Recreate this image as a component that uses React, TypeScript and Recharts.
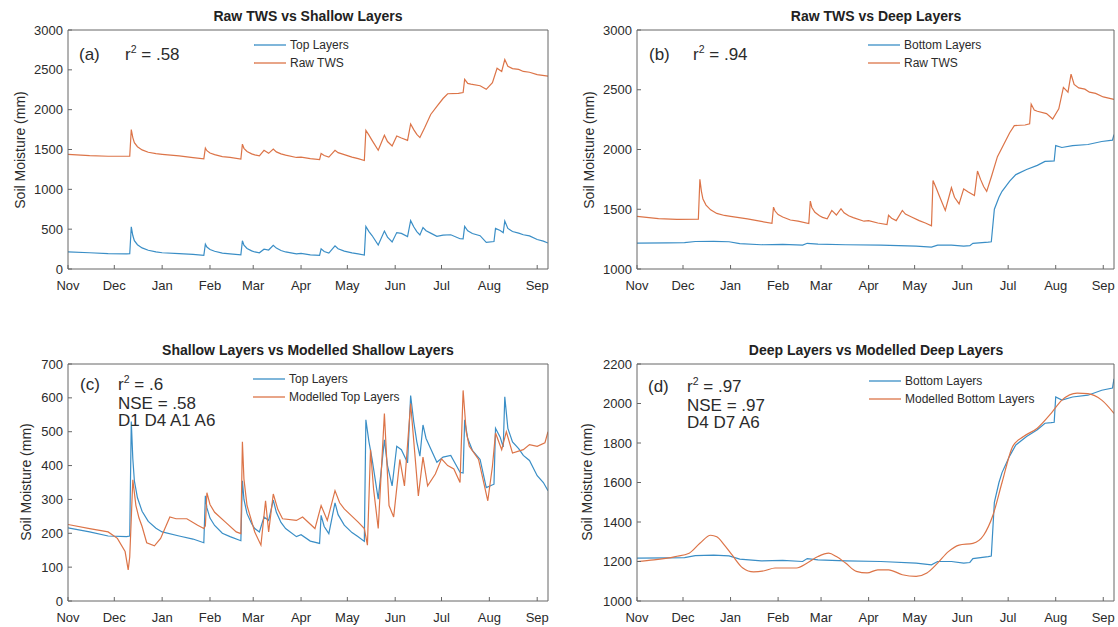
import React from 'react';
import { LineChart, Line, XAxis, YAxis, Legend } from 'recharts';

// ---------- axis categories ----------
const monthTicks = [0, 30, 61, 92, 120, 151, 181, 212, 242, 273, 304];
const monthLabels = ['Nov', 'Dec', 'Jan', 'Feb', 'Mar', 'Apr', 'May', 'Jun', 'Jul', 'Aug', 'Sep'];
const xDomain: [number, number] = [0, 311];

const ticksA = [0, 500, 1000, 1500, 2000, 2500, 3000];
const ticksB = [1000, 1500, 2000, 2500, 3000];
const ticksC = [0, 100, 200, 300, 400, 500, 600, 700];
const ticksD = [1000, 1200, 1400, 1600, 1800, 2000, 2200];

// ---------- series: [day since Nov 1, value mm] ----------
const topLayers: [number, number][] = [
  [0, 216], [14, 204], [26, 192], [38, 190], [40, 192], [41, 530], [42, 420], [43, 355], [45, 305], [48, 265],
  [52, 235], [57, 215], [61, 204], [72, 192], [81, 183], [88, 172], [89, 311], [90, 275], [92, 245], [95, 223],
  [100, 200], [105, 190], [112, 178], [113, 355], [114, 300], [116, 258], [119, 228], [121, 214], [124, 204], [127, 248],
  [130, 238], [133, 298], [135, 262], [138, 232], [141, 214], [148, 190], [151, 196], [157, 177], [163, 170], [164, 253],
  [166, 220], [169, 199], [173, 290], [175, 255], [179, 224], [184, 202], [188, 190], [192, 176], [193, 535], [195, 470],
  [197, 420], [201, 301], [205, 476], [207, 400], [210, 340], [213, 457], [216, 447], [220, 408], [222, 607], [224, 530],
  [226, 470], [228, 428], [230, 520], [232, 480], [235, 450], [239, 410], [243, 425], [248, 430], [254, 380], [256, 378],
  [257, 535], [259, 480], [262, 445], [267, 418], [271, 335], [276, 345], [277, 510], [280, 484], [282, 455], [283, 603],
  [285, 510], [288, 470], [292, 450], [295, 430], [299, 415], [304, 370], [308, 350], [311, 326],
];

const bottomLayers: [number, number][] = [
  [0, 1217], [20, 1218], [31, 1220], [38, 1230], [50, 1232], [60, 1228], [67, 1212], [81, 1203], [95, 1206], [108, 1200],
  [111, 1215], [118, 1208], [136, 1203], [159, 1200], [182, 1192], [192, 1183], [196, 1200], [205, 1200], [213, 1192],
  [217, 1195], [219, 1215], [229, 1225], [231, 1228], [233, 1500], [236, 1600], [238, 1650], [243, 1735], [247, 1790],
  [254, 1833], [261, 1867], [266, 1900], [270, 1903], [272, 1905], [273, 2033], [277, 2017], [284, 2033], [294, 2042],
  [303, 2067], [310, 2078], [311, 2125],
];

const rawTWS: [number, number][] = [
  [0, 1440], [14, 1422], [26, 1415], [40, 1418], [41, 1750], [42, 1650], [43, 1585], [45, 1535], [48, 1495], [52, 1465],
  [57, 1448], [61, 1440], [72, 1420], [81, 1398], [88, 1382], [89, 1518], [90, 1485], [92, 1455], [95, 1435], [100, 1410],
  [105, 1400], [112, 1380], [113, 1568], [114, 1515], [116, 1475], [119, 1445], [121, 1432], [124, 1420], [127, 1490],
  [130, 1452], [133, 1505], [135, 1470], [138, 1445], [141, 1430], [148, 1400], [151, 1405], [157, 1385], [163, 1372],
  [164, 1450], [166, 1425], [169, 1405], [173, 1490], [175, 1460], [179, 1435], [184, 1405], [188, 1385], [192, 1362],
  [193, 1740], [195, 1680], [197, 1615], [201, 1490], [205, 1680], [207, 1600], [210, 1545], [213, 1670], [216, 1645],
  [220, 1615], [222, 1820], [224, 1750], [226, 1690], [228, 1650], [231, 1770], [235, 1940], [239, 2040], [243, 2140],
  [246, 2200], [253, 2205], [256, 2215], [257, 2380], [259, 2330], [261, 2320], [267, 2300], [271, 2255], [275, 2340],
  [278, 2520], [281, 2480], [283, 2630], [285, 2545], [288, 2515], [292, 2505], [295, 2480], [299, 2470], [304, 2440],
  [311, 2420],
];

const modelledTop: [number, number][] = [
  [0, 226], [14, 214], [26, 204], [32, 185], [37, 146], [39, 92], [40, 130], [42, 358], [44, 282], [46, 245],
  [48, 220], [51, 172], [56, 163], [60, 185], [66, 248], [70, 243], [77, 243], [84, 224], [88, 214], [89, 222],
  [90, 320], [92, 285], [95, 262], [102, 233], [109, 204], [112, 199], [113, 470], [114, 360], [116, 282], [121, 204],
  [125, 165], [128, 296], [130, 204], [133, 316], [136, 270], [139, 243], [148, 238], [152, 248], [160, 214], [164, 282],
  [168, 238], [173, 326], [176, 290], [179, 272], [188, 233], [192, 214], [194, 165], [196, 447], [198, 330], [201, 214],
  [205, 554], [208, 282], [211, 248], [215, 418], [218, 340], [222, 583], [227, 310], [230, 425], [233, 340], [238, 375],
  [242, 420], [246, 400], [250, 390], [254, 350], [256, 622], [258, 500], [260, 457], [266, 418], [272, 296], [275, 398],
  [277, 496], [281, 447], [284, 500], [288, 437], [295, 447], [299, 462], [304, 457], [309, 467], [311, 500],
];

const modelledBottom: [number, number][] = [
  [0, 1200], [11, 1208], [25, 1225], [34, 1242], [41, 1292], [48, 1333], [52, 1325], [57, 1283], [62, 1233], [69, 1167],
  [76, 1147], [83, 1153], [90, 1167], [104, 1167], [111, 1192], [118, 1225], [125, 1242], [130, 1225], [136, 1192],
  [143, 1150], [150, 1142], [157, 1158], [164, 1158], [173, 1133], [182, 1125], [189, 1142], [196, 1192], [203, 1250],
  [210, 1283], [219, 1292], [226, 1333], [232, 1433], [238, 1600], [245, 1783], [252, 1833], [261, 1875], [270, 1950],
  [277, 2017], [287, 2053], [294, 2050], [303, 2017], [311, 1950],
];

// ---------- styling ----------
const BLUE = '#3a8ec6';
const ORANGE = '#dc7448';
const AXIS = '#666666';
const TEXT = '#2b2b2b';
const FONT = '"Liberation Sans", Arial, Helvetica, sans-serif';

const toData = (pairs: [number, number][]) => pairs.map(([day, v]) => ({ day, v }));

type Series = { name: string; color: string; pairs: [number, number][]; smooth?: boolean };

type PanelProps = {
  x: number; y: number; w: number; h: number;
  pl: number; pr: number; pt: number; pb: number;
  yDomain: [number, number]; yTicks: number[];
  series: Series[];
  legendX: number; legendY: number;
};

const makeLegend = (series: Series[]) => (props: any) => {
  const items = [...(props.payload || [])].sort(
    (a: any, b: any) => series.findIndex((s) => s.name === a.value) - series.findIndex((s) => s.name === b.value)
  );
  return (
    <div style={{ fontFamily: FONT, fontSize: 12, color: TEXT }}>
      {items.map((e: any, i: number) => (
        <div key={i} style={{ display: 'flex', alignItems: 'center', height: 18, whiteSpace: 'nowrap' }}>
          <svg width={32} height={4} style={{ display: 'block' }}>
            <line x1={0} y1={2} x2={32} y2={2} stroke={e.color} strokeWidth={1.3} />
          </svg>
          <span style={{ marginLeft: 4 }}>{e.value}</span>
        </div>
      ))}
    </div>
  );
};

function Panel(p: PanelProps) {
  const LW = 50;
  const margin = {
    top: p.pt - p.y - 1,
    right: p.x + p.w - p.pr - 1,
    bottom: p.y + p.h - p.pb - 20,
    left: p.pl - p.x - LW,
  };
  const tickStyle = { fill: TEXT, fontSize: 13, fontFamily: FONT };
  return (
    <div style={{ position: 'absolute', left: p.x, top: p.y, width: p.w, height: p.h }}>
      <LineChart width={p.w} height={p.h} margin={margin}>
        <XAxis
          xAxisId="b" dataKey="day" type="number" domain={xDomain} ticks={monthTicks} interval={0}
          tickFormatter={(d: number) => monthLabels[monthTicks.indexOf(d)]}
          height={20} tickSize={-4} tickMargin={16} stroke={AXIS} tick={tickStyle} allowDataOverflow
        />
        <XAxis
          xAxisId="t" orientation="top" dataKey="day" type="number" domain={xDomain} ticks={monthTicks} interval={0}
          height={1} tickSize={-4} tick={false} stroke={AXIS} allowDataOverflow
        />
        <YAxis
          yAxisId="l" type="number" domain={p.yDomain} ticks={p.yTicks} interval={0}
          width={LW} tickSize={-4} tickMargin={9} stroke={AXIS} tick={tickStyle} allowDataOverflow
        />
        <YAxis
          yAxisId="r" orientation="right" type="number" domain={p.yDomain} ticks={p.yTicks} interval={0}
          width={1} tickSize={-4} tick={false} stroke={AXIS} allowDataOverflow
        />
        {p.series.map((s) => (
          <Line
            key={s.name}
            xAxisId="b"
            yAxisId="l"
            data={toData(s.pairs)}
            dataKey="v"
            name={s.name}
            stroke={s.color}
            strokeWidth={1.2}
            dot={false}
            activeDot={false}
            type={s.smooth ? 'monotone' : 'linear'}
            isAnimationActive={false}
          />
        ))}
        <Legend
          layout="vertical"
          align="center"
          verticalAlign="middle"
          content={makeLegend(p.series)}
          wrapperStyle={{ left: p.legendX - p.x, top: p.legendY - p.y, width: 'auto', height: 'auto' }}
        />
      </LineChart>
    </div>
  );
}

const Title = ({ cx, cy, text }: { cx: number; cy: number; text: string }) => (
  <div style={{
    position: 'absolute', left: cx, top: cy, transform: 'translate(-50%, -50%)', whiteSpace: 'nowrap',
    fontFamily: FONT, fontWeight: 'bold', fontSize: 14, color: '#222',
  }}>{text}</div>
);

const YLabel = ({ cx, cy }: { cx: number; cy: number }) => (
  <div style={{
    position: 'absolute', left: cx, top: cy, transform: 'translate(-50%, -50%) rotate(-90deg)', whiteSpace: 'nowrap',
    fontFamily: FONT, fontSize: 14, color: TEXT,
  }}>Soil Moisture (mm)</div>
);

const R2 = ({ v }: { v: string }) => (
  <span>r<span style={{ fontSize: '0.62em', position: 'relative', top: '-0.62em' }}>2</span> = {v}</span>
);

const Note = ({ x, y, tag, lines, tagX }: { x: number; y: number; tag: string; tagX: number; lines: React.ReactNode[] }) => (
  <>
    <div style={{ position: 'absolute', left: tagX, top: y, fontFamily: FONT, fontSize: 17, color: TEXT, lineHeight: '17px' }}>{tag}</div>
    <div style={{ position: 'absolute', left: x, top: y, fontFamily: FONT, fontSize: 17, color: TEXT, lineHeight: '17px', whiteSpace: 'nowrap' }}>
      {lines.map((l, i) => <div key={i}>{l}</div>)}
    </div>
  </>
);

export default function App() {
  return (
    <div style={{ position: 'absolute', left: 0, top: 0, width: 1118, height: 627, background: '#fff', overflow: 'hidden' }}>
      <Panel
        x={0} y={0} w={559} h={300} pl={68} pr={548} pt={30} pb={269}
        yDomain={[0, 3000]} yTicks={ticksA}
        series={[{ name: 'Top Layers', color: BLUE, pairs: topLayers }, { name: 'Raw TWS', color: ORANGE, pairs: rawTWS }]}
        legendX={254} legendY={36}
      />
      <Panel
        x={559} y={0} w={559} h={300} pl={637} pr={1114} pt={30} pb={269}
        yDomain={[1000, 3000]} yTicks={ticksB}
        series={[{ name: 'Bottom Layers', color: BLUE, pairs: bottomLayers }, { name: 'Raw TWS', color: ORANGE, pairs: rawTWS }]}
        legendX={868} legendY={36}
      />
      <Panel
        x={0} y={300} w={559} h={327} pl={68} pr={548} pt={364} pb={601}
        yDomain={[0, 700]} yTicks={ticksC}
        series={[{ name: 'Top Layers', color: BLUE, pairs: topLayers }, { name: 'Modelled Top Layers', color: ORANGE, pairs: modelledTop }]}
        legendX={253} legendY={370}
      />
      <Panel
        x={559} y={300} w={559} h={327} pl={637} pr={1114} pt={364} pb={601}
        yDomain={[1000, 2200]} yTicks={ticksD}
        series={[{ name: 'Bottom Layers', color: BLUE, pairs: bottomLayers }, { name: 'Modelled Bottom Layers', color: ORANGE, pairs: modelledBottom, smooth: true }]}
        legendX={869} legendY={372}
      />

      <Title cx={308} cy={16} text="Raw TWS vs Shallow Layers" />
      <Title cx={876} cy={16} text="Raw TWS vs Deep Layers" />
      <Title cx={308} cy={350} text="Shallow Layers vs Modelled Shallow Layers" />
      <Title cx={876} cy={350} text="Deep Layers vs Modelled Deep Layers" />

      <YLabel cx={20} cy={150} />
      <YLabel cx={589} cy={150} />
      <YLabel cx={26} cy={482} />
      <YLabel cx={587} cy={482} />

      <Note tagX={79} x={125} y={46} tag="(a)" lines={[<R2 v=".58" />]} />
      <Note tagX={649} x={693} y={46} tag="(b)" lines={[<R2 v=".94" />]} />
      <Note tagX={80} x={118} y={376} tag="(c)" lines={[<R2 v=".6" />, 'NSE = .58', 'D1 D4 A1 A6']} />
      <Note tagX={648} x={687} y={378} tag="(d)" lines={[<R2 v=".97" />, 'NSE = .97', 'D4 D7 A6']} />
    </div>
  );
}
